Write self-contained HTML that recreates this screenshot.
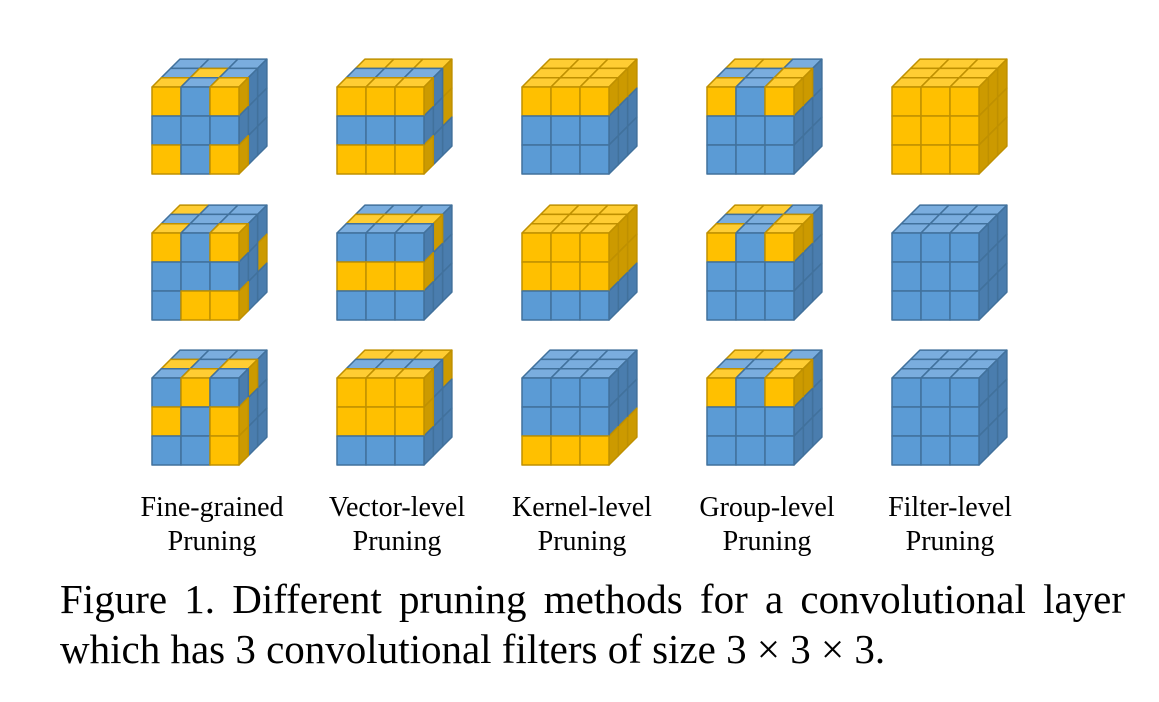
<!DOCTYPE html>
<html><head><meta charset="utf-8">
<style>
html,body{margin:0;padding:0;background:#fff;}
svg{display:block;}
text{font-family:"Liberation Serif",serif;fill:#000;}
</style></head>
<body>
<svg id="fig" width="1159" height="702" viewBox="0 0 1159 702">
<g id="cubes"></g>
<g font-size="28" text-anchor="middle">
<text x="212" y="516">Fine-grained</text>
<text x="212" y="550">Pruning</text>
<text x="397" y="516">Vector-level</text>
<text x="397" y="550">Pruning</text>
<text x="582" y="516">Kernel-level</text>
<text x="582" y="550">Pruning</text>
<text x="767" y="516">Group-level</text>
<text x="767" y="550">Pruning</text>
<text x="950" y="516">Filter-level</text>
<text x="950" y="550">Pruning</text>
</g>
<g font-size="41">
<text id="cap1" x="60" y="613">Figure 1. Different pruning methods for a convolutional layer</text>
<text x="60" y="663">which has 3 convolutional filters of size 3 × 3 × 3.</text>
</g>
</svg>
<script>
// Each cube: front rows (r0..r2), top rows (d0 front .. d2 back), right rows (r0..r2, each d0..d2)
const colX = [152, 337, 522, 707, 892];
const rowY = [87, 233, 378];
const fronts = [
 ["YBY","BBB","YBY"], ["YYY","BBB","YYY"], ["YYY","BBB","BBB"], ["YBY","BBB","BBB"], ["YYY","YYY","YYY"],
 ["YBY","BBB","BYY"], ["BBB","YYY","BBB"], ["YYY","YYY","BBB"], ["YBY","BBB","BBB"], ["BBB","BBB","BBB"],
 ["BYB","YBY","BBY"], ["YYY","YYY","BBB"], ["BBB","BBB","YYY"], ["YBY","BBB","BBB"], ["BBB","BBB","BBB"]
];
const tops = [
 ["YBY","BYB","BBB"], ["YYY","BBB","YYY"], ["YYY","YYY","YYY"], ["YBY","BBY","YYB"], ["YYY","YYY","YYY"],
 ["YBY","BBB","YBB"], ["BBB","YYY","BBB"], ["YYY","YYY","YYY"], ["YBY","BBY","YYB"], ["BBB","BBB","BBB"],
 ["BYB","YBY","BBB"], ["YYY","BBB","YYY"], ["BBB","BBB","BBB"], ["YBY","BBY","YYB"], ["BBB","BBB","BBB"]
];
const rights = [
 ["YBB","BBB","YBB"], ["YBY","BBY","YBB"], ["YYY","BBB","BBB"], ["YYB","BBB","BBB"], ["YYY","YYY","YYY"],
 ["YBB","BBY","YBB"], ["BYB","YBB","BBB"], ["YYY","YYY","BBB"], ["YYB","BBB","BBB"], ["BBB","BBB","BBB"],
 ["BYB","YBB","YBB"], ["YBY","YBB","BBB"], ["BBB","BBB","YYY"], ["YYB","BBB","BBB"], ["BBB","BBB","BBB"]
];
const S = 29, K = 9.3;
const col = {
 Y: {front:"#FFC000", top:"#FFCD33", right:"#CC9A00", stroke:"#BF9000"},
 B: {front:"#5B9BD5", top:"#7AADDE", right:"#4A7DAE", stroke:"#41719C"}
};
const NS = "http://www.w3.org/2000/svg";
const g = document.getElementById("cubes");
function poly(parent, pts, c, face, name){
  const p = document.createElementNS(NS, "polygon");
  p.setAttribute("points", pts.map(q => q[0].toFixed(1)+","+q[1].toFixed(1)).join(" "));
  p.setAttribute("fill", col[c][face]);
  p.setAttribute("stroke", col[c].stroke);
  p.setAttribute("stroke-width", "1.5");
  p.setAttribute("stroke-linejoin", "round");
  
  
  parent.appendChild(p);
}
for (let i = 0; i < 15; i++) {
  const x0 = colX[i % 5], y0 = rowY[Math.floor(i / 5)];
  const cg = document.createElementNS(NS, "g");
  
  
  g.appendChild(cg);
  for (let d = 2; d >= 0; d--) for (let c = 0; c < 3; c++) {
    const x = x0 + c*S + d*K, y = y0 - d*K;
    poly(cg, [[x,y],[x+S,y],[x+S+K,y-K],[x+K,y-K]], tops[i][d][c], "top", "top-cell");
  }
  for (let d = 2; d >= 0; d--) for (let r = 0; r < 3; r++) {
    const x = x0 + 3*S + d*K, y = y0 + r*S - d*K;
    poly(cg, [[x,y],[x+K,y-K],[x+K,y+S-K],[x,y+S]], rights[i][r][d], "right", "side-cell");
  }
  for (let r = 0; r < 3; r++) for (let c = 0; c < 3; c++) {
    const x = x0 + c*S, y = y0 + r*S;
    poly(cg, [[x,y],[x+S,y],[x+S,y+S],[x,y+S]], fronts[i][r][c], "front", "front-cell");
  }
}
// justify caption line 1 via word spacing
const cap = document.getElementById("cap1");
const natural = cap.getComputedTextLength();
const spaces = (cap.textContent.match(/ /g) || []).length;
const extra = (1065 - natural) / spaces;
if (extra > 0) cap.setAttribute("word-spacing", extra.toFixed(2));
</script>
</body></html>
